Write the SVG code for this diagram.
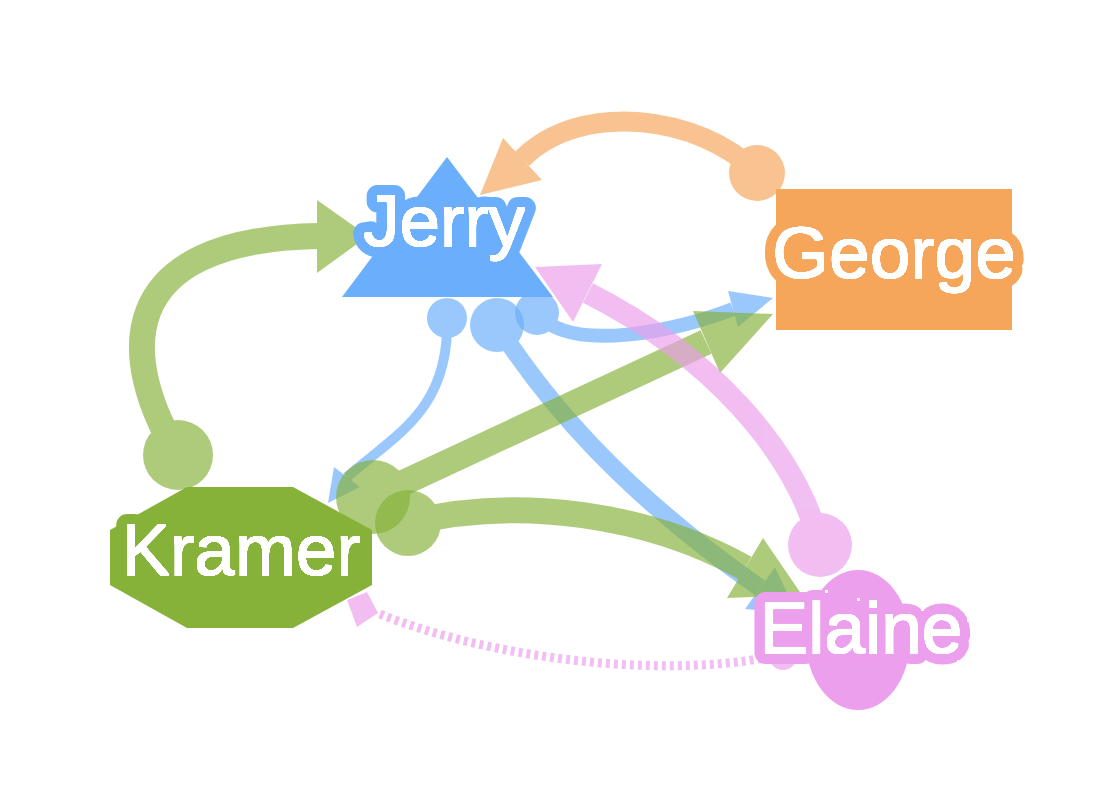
<svg xmlns="http://www.w3.org/2000/svg" width="1116" height="806" viewBox="0 0 1116 806">
<defs>
<filter id="thicken" x="-10%" y="-30%" width="120%" height="160%" color-interpolation-filters="sRGB">
  <feColorMatrix in="SourceGraphic" type="matrix" values="0 0 0 0 1  0 0 0 0 1  0 0 0 0 1  4 4 4 0 -11" result="white"/>
  <feMorphology in="white" operator="dilate" radius="1.2" result="thick"/>
  <feMerge><feMergeNode in="SourceGraphic"/><feMergeNode in="thick"/></feMerge>
</filter>
</defs>
<style>
.edge{opacity:0.67}
.e-blue{stroke:#6aaefc;fill:#6aaefc}
.e-orange{stroke:#f5a65b;fill:#f5a65b}
.e-green{stroke:#86b23a;fill:#86b23a}
.e-pink{stroke:#ec9fec;fill:#ec9fec}
.line{fill:none}
.head,.dot{stroke:none}
.dotted{fill:none;stroke-dasharray:4 4}
.label{font-family:"Liberation Sans",Arial,sans-serif;font-size:73px;fill:#ffffff;stroke-width:22px;stroke-linejoin:round;paint-order:stroke fill;text-anchor:middle;filter:url(#thicken)}
</style>
<rect width="1116" height="806" fill="#ffffff"/>
<g id="connectors">
  <g id="edge-george-jerry" class="edge e-orange">
    <path class="line" stroke-width="20" d="M757,173 C700,115 580,100 522,159"/>
    <circle class="dot" cx="757" cy="173" r="28"/>
    <polygon class="head" points="480,195 503,138 542,180"/>
  </g>
  <g id="edge-kramer-jerry" class="edge e-green">
    <path class="line" stroke-width="26" d="M178,455 C120,360 110,240 318,236"/>
    <circle class="dot" cx="178" cy="455" r="35"/>
    <polygon class="head" points="368,236 317,200 317,273"/>
  </g>
  <g id="edge-jerry-george" class="edge e-blue">
    <path class="line" stroke-width="14" d="M537,313 C570,355 680,330 733,309"/>
    <circle class="dot" cx="537" cy="313" r="22"/>
    <polygon class="head" points="773,298 738,327 728,291"/>
  </g>
  <g id="edge-jerry-elaine" class="edge e-blue">
    <path class="line" stroke-width="18" d="M497,325 C545,400 620,490 760,588"/>
    <circle class="dot" cx="497" cy="325" r="27"/>
    <polygon class="head" points="797,614 745,609 775,567"/>
  </g>
  <g id="edge-jerry-kramer" class="edge e-blue">
    <path class="line" stroke-width="10" d="M447,318 C450,410 395,435 347,477"/>
    <circle class="dot" cx="447" cy="318" r="20"/>
    <polygon class="head" points="328,503 360,487 334,467"/>
  </g>
  <g id="edge-kramer-george" class="edge e-green">
    <path class="line" stroke-width="26" d="M373,497 L706,342"/>
    <circle class="dot" cx="373" cy="497" r="37"/>
    <polygon class="head" points="773,314 693,311 720,373"/>
  </g>
  <g id="edge-kramer-elaine" class="edge e-green">
    <path class="line" stroke-width="26" d="M408,523 C520,495 650,515 745,568"/>
    <circle class="dot" cx="408" cy="523" r="33"/>
    <polygon class="head" points="802,595 763,538 727,598"/>
  </g>
  <g id="edge-elaine-jerry" class="edge e-pink">
    <path class="line" stroke-width="22" d="M820,545 C795,450 710,355 588,293"/>
    <circle class="dot" cx="820" cy="545" r="32"/>
    <polygon class="head" points="535,267 602,264 573,322"/>
  </g>
  <g id="edge-elaine-kramer" class="edge e-pink">
    <path class="dotted" stroke-width="9" d="M380,614 C480,655 650,680 770,657"/>
    <circle class="dot" cx="783" cy="656" r="14"/>
    <polygon class="head" points="347,600 367,592 378,613 357,627"/>
  </g>
</g>
<g id="node-jerry">
  <polygon points="447,157 342,297 553,297" fill="#6aaefc"/>
  <text class="label" x="444" y="246" stroke="#6aaefc">Jerry</text>
</g>
<g id="node-george">
  <rect x="776" y="189" width="236" height="141" fill="#f5a65b"/>
  <text class="label" x="894" y="278" stroke="#f5a65b">George</text>
</g>
<g id="node-kramer">
  <polygon points="187,487 293,487 372,530 372,585 293,628 187,628 110,585 110,530" fill="#86b23a"/>
  <text class="label" x="241" y="575" stroke="#86b23a">Kramer</text>
</g>
<g id="node-elaine">
  <ellipse cx="858" cy="640" rx="52" ry="70" fill="#ec9fec"/>
  <text class="label" x="861" y="653" stroke="#ec9fec">Elaine</text>
</g>
</svg>
